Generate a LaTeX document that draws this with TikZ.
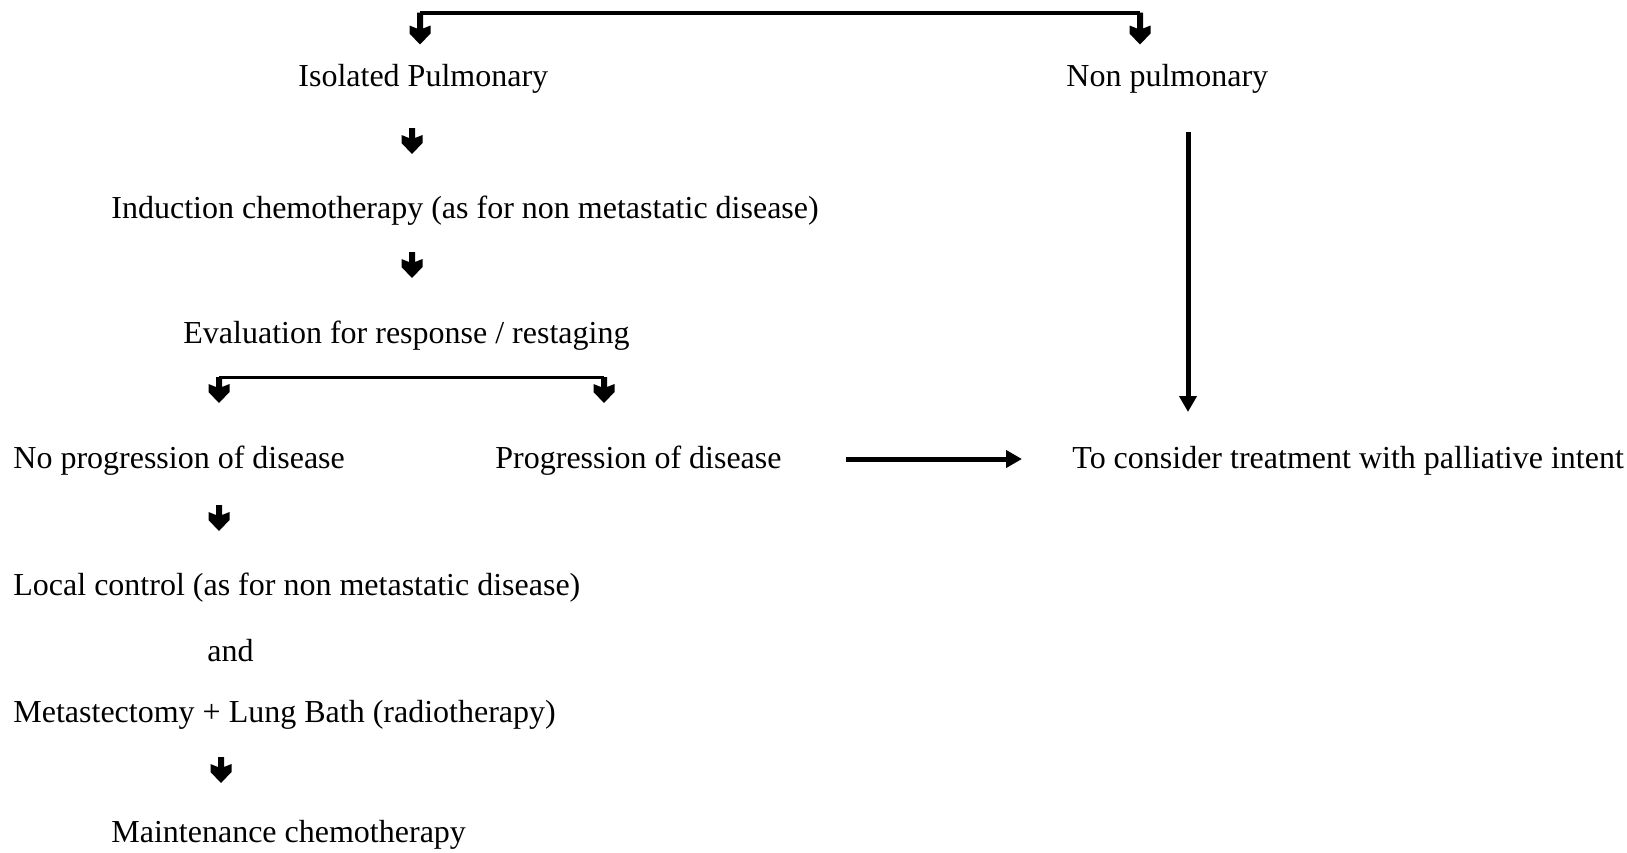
\documentclass[tikz,border=0pt]{standalone}
\usepackage{fontspec}
\setmainfont{Liberation Serif}
\usetikzlibrary{arrows.meta,positioning}

\tikzset{pics/darr/.style={code={
  \fill (-3,0) -- (3,0) -- (3,#1-16) -- (10.5,#1-19) -- (10.5,#1-11) -- (0,#1)
        -- (-10.5,#1-11) -- (-10.5,#1-19) -- (-3,#1-16) -- cycle;}}}

\begin{document}
\begin{tikzpicture}[x=0.5pt, y=-0.5pt]
\tikzstyle{step text}=[anchor=west, inner sep=0pt, font=\fontsize{16}{19}\selectfont]
\tikzstyle{bar}=[line width=2pt]
\tikzstyle{thinbar}=[line width=1.5pt]
\tikzstyle{long arrow}=[line width=2.5pt, -{Triangle[length=8pt, width=8.5pt]}]

\useasboundingbox (0,0) rectangle (1627,852);

\node[step text] (iso) at (298,79) {Isolated Pulmonary};
\node[step text] (nonpul) at (1066,79) {Non pulmonary};
\node[step text] (induct) at (111,211) {Induction chemotherapy (as for non metastatic disease)};
\node[step text] (eval) at (183,336) {Evaluation for response / restaging};
\node[step text] (noprog) at (13,461) {No progression of disease};
\node[step text] (prog) at (495,461) {Progression of disease};
\node[step text] (pall) at (1072,461) {To consider treatment with palliative intent};
\node[step text] (local) at (13,588) {Local control (as for non metastatic disease)};
\node[step text] (and) at (207,651) {and};
\node[step text] (meta) at (13,715) {Metastectomy + Lung Bath (radiotherapy)};
\node[step text] (maint) at (111,835) {Maintenance chemotherapy};

% top split
\coordinate (topL) at (420,12.5);
\coordinate (topR) at (1140,12.5);
\draw[bar] (topL) -- (topR);
\pic at (topL) {darr=32};
\pic at (topR) {darr=32};

% left column
\pic at (412,128) {darr=26};
\pic at (412,252) {darr=26};

% response split
\coordinate (evL) at (219,377);
\coordinate (evR) at (604,377);
\draw[thinbar] (evL) -- (evR);
\pic at (evL) {darr=26};
\pic at (evR) {darr=26};

\pic at (219,505) {darr=26};
\pic at (221,757) {darr=26};

% to palliative
\coordinate (nonpulEnd) at (1188,132);
\coordinate (pallTop) at (1188,412);
\draw[long arrow] (nonpulEnd) -- (pallTop);
\coordinate (progEnd) at (846,459);
\coordinate (pallWest) at (1022,459);
\draw[long arrow] (progEnd) -- (pallWest);
\end{tikzpicture}
\end{document}
